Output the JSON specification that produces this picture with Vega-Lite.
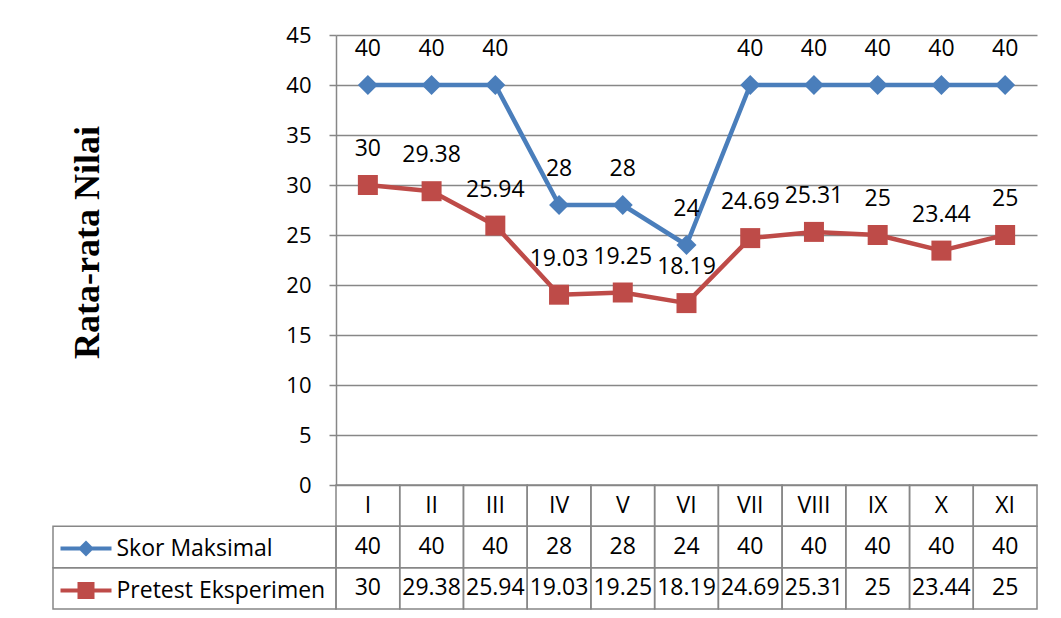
{
  "$schema": "https://vega.github.io/schema/vega-lite/v6.json",
  "background": "white",
  "padding": {"left": 52, "top": 24, "right": 20, "bottom": 5},
  "columns": 2,
  "spacing": 0,
  "bounds": "flush",
  "align": "each",
  "datasets": {
    "nilai": [
      {"sesi": "I", "seri": "Skor Maksimal", "nilai": 40},
      {"sesi": "II", "seri": "Skor Maksimal", "nilai": 40},
      {"sesi": "III", "seri": "Skor Maksimal", "nilai": 40},
      {"sesi": "IV", "seri": "Skor Maksimal", "nilai": 28},
      {"sesi": "V", "seri": "Skor Maksimal", "nilai": 28},
      {"sesi": "VI", "seri": "Skor Maksimal", "nilai": 24},
      {"sesi": "VII", "seri": "Skor Maksimal", "nilai": 40},
      {"sesi": "VIII", "seri": "Skor Maksimal", "nilai": 40},
      {"sesi": "IX", "seri": "Skor Maksimal", "nilai": 40},
      {"sesi": "X", "seri": "Skor Maksimal", "nilai": 40},
      {"sesi": "XI", "seri": "Skor Maksimal", "nilai": 40},
      {"sesi": "I", "seri": "Pretest Eksperimen", "nilai": 30},
      {"sesi": "II", "seri": "Pretest Eksperimen", "nilai": 29.38},
      {"sesi": "III", "seri": "Pretest Eksperimen", "nilai": 25.94},
      {"sesi": "IV", "seri": "Pretest Eksperimen", "nilai": 19.03},
      {"sesi": "V", "seri": "Pretest Eksperimen", "nilai": 19.25},
      {"sesi": "VI", "seri": "Pretest Eksperimen", "nilai": 18.19},
      {"sesi": "VII", "seri": "Pretest Eksperimen", "nilai": 24.69},
      {"sesi": "VIII", "seri": "Pretest Eksperimen", "nilai": 25.31},
      {"sesi": "IX", "seri": "Pretest Eksperimen", "nilai": 25},
      {"sesi": "X", "seri": "Pretest Eksperimen", "nilai": 23.44},
      {"sesi": "XI", "seri": "Pretest Eksperimen", "nilai": 25}
    ]
  },
  "config": {
    "view": {"stroke": null},
    "font": "Open Sans",
    "text": {"font": "Open Sans", "color": "black"}
  },
  "concat": [
    {
      "width": 283,
      "height": 450,
      "data": {"values": []},
      "mark": "point"
    },
    {
      "width": 701,
      "height": 450,
      "data": {"name": "nilai"},
      "encoding": {
        "x": {
          "field": "sesi",
          "type": "ordinal",
          "sort": ["I", "II", "III", "IV", "V", "VI", "VII", "VIII", "IX", "X", "XI"],
          "scale": {"type": "point", "padding": 0.5},
          "axis": null
        },
        "y": {
          "field": "nilai",
          "type": "quantitative",
          "scale": {"domain": [0, 45], "nice": false, "zero": true},
          "axis": {
            "values": [0, 5, 10, 15, 20, 25, 30, 35, 40, 45],
            "title": "Rata-rata Nilai",
            "titleFont": "Liberation Serif",
            "titleFontSize": 36,
            "titleFontWeight": "bold",
            "titleColor": "black",
            "titleAngle": -90,
            "titleAlign": "center",
            "titleBaseline": "middle",
            "titleX": -249,
            "titleY": 207,
            "labelFont": "Open Sans",
            "labelFontSize": 22,
            "labelColor": "black",
            "labelPadding": 18,
            "tickSize": 7,
            "tickColor": "#878787",
            "tickWidth": 1.5,
            "domainColor": "#878787",
            "domainWidth": 1.5,
            "grid": true,
            "gridColor": "#878787",
            "gridWidth": 1.5
          }
        },
        "color": {
          "field": "seri",
          "type": "nominal",
          "scale": {"domain": ["Skor Maksimal", "Pretest Eksperimen"], "range": ["#4A7EBB", "#BE4B48"]},
          "legend": {
            "orient": "none",
            "legendX": 21.5,
            "legendY": 502,
            "title": null,
            "direction": "vertical",
            "padding": 0,
            "rowPadding": 18,
            "symbolSize": 400,
            "labelOffset": 19,
            "labelFont": "Open Sans",
            "labelFontSize": 23,
            "labelColor": "black",
            "labelLimit": 400,
            "encode": {
              "symbols": {
                "update": {
                  "shape": {"signal": "datum.value === 'Skor Maksimal' ? 'M-2.55,-0.2L2.55,-0.2L2.55,0.2L-2.55,0.2Z M0,-0.8L0.8,0L0,0.8L-0.8,0Z' : 'M-2.55,-0.2L2.55,-0.2L2.55,0.2L-2.55,0.2Z M-0.85,-0.85L0.85,-0.85L0.85,0.85L-0.85,0.85Z'"},
                  "fill": {"signal": "datum.value === 'Skor Maksimal' ? '#4A7EBB' : '#BE4B48'"},
                  "stroke": {"value": "transparent"},
                  "strokeWidth": {"value": 0},
                  "opacity": {"value": 1}
                }
              }
            }
          }
        }
      },
      "layer": [
        {
          "mark": {"type": "line", "strokeWidth": 4.5, "strokeJoin": "round"}
        },
        {
          "transform": [{"filter": "datum.seri === 'Skor Maksimal'"}],
          "mark": {"type": "point", "shape": "diamond", "filled": true, "size": 400, "opacity": 1}
        },
        {
          "transform": [{"filter": "datum.seri === 'Pretest Eksperimen'"}],
          "mark": {"type": "point", "shape": "square", "filled": true, "size": 400, "opacity": 1}
        },
        {
          "mark": {"type": "text", "dy": -36, "fontSize": 23, "font": "Open Sans", "color": "black", "baseline": "middle"},
          "encoding": {"text": {"field": "nilai", "type": "nominal"}, "color": {"value": "black"}}
        }
      ]
    },
    {
      "width": 283,
      "height": 124,
      "data": {"name": "nilai"},
      "transform": [{"aggregate": [{"op": "count", "as": "n"}], "groupby": ["seri"]}],
      "mark": {"type": "rect", "fill": "transparent", "stroke": "#878787", "strokeWidth": 1.5},
      "encoding": {
        "y": {
          "field": "seri",
          "type": "nominal",
          "scale": {"domain": ["kategori", "Skor Maksimal", "Pretest Eksperimen"], "paddingInner": 0, "paddingOuter": 0},
          "axis": null
        }
      }
    },
    {
      "width": 701,
      "height": 124,
      "data": {"name": "nilai"},
      "encoding": {
        "x": {
          "field": "sesi",
          "type": "ordinal",
          "sort": ["I", "II", "III", "IV", "V", "VI", "VII", "VIII", "IX", "X", "XI"],
          "scale": {"type": "band", "paddingInner": 0, "paddingOuter": 0},
          "axis": null
        }
      },
      "layer": [
        {
          "transform": [{"filter": "datum.seri === 'Skor Maksimal'"}],
          "mark": {"type": "rect", "fill": "transparent", "stroke": "#878787", "strokeWidth": 1.5},
          "encoding": {
            "y": {
              "datum": "kategori",
              "type": "nominal",
              "scale": {"domain": ["kategori", "Skor Maksimal", "Pretest Eksperimen"], "paddingInner": 0, "paddingOuter": 0},
              "axis": null
            }
          }
        },
        {
          "mark": {"type": "rect", "fill": "transparent", "stroke": "#878787", "strokeWidth": 1.5},
          "encoding": {"y": {"field": "seri", "type": "nominal", "axis": null}}
        },
        {
          "transform": [{"filter": "datum.seri === 'Skor Maksimal'"}],
          "mark": {"type": "text", "fontSize": 23, "font": "Open Sans", "color": "black"},
          "encoding": {
            "y": {"datum": "kategori", "type": "nominal", "axis": null},
            "text": {"field": "sesi", "type": "nominal"}
          }
        },
        {
          "mark": {"type": "text", "fontSize": 23, "font": "Open Sans", "color": "black"},
          "encoding": {
            "y": {"field": "seri", "type": "nominal", "axis": null},
            "text": {"field": "nilai", "type": "nominal"}
          }
        }
      ]
    }
  ]
}
